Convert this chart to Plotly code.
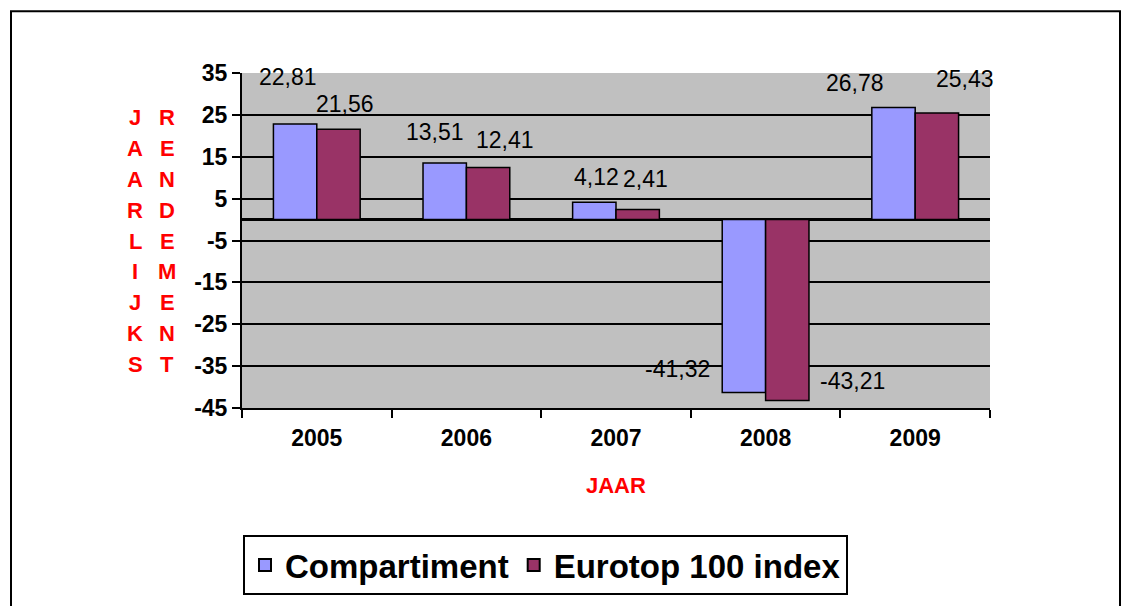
import plotly.graph_objects as go

years = ["2005", "2006", "2007", "2008", "2009"]
compartiment = [22.81, 13.51, 4.12, -41.32, 26.78]
eurotop = [21.56, 12.41, 2.41, -43.21, 25.43]
series_names = ["Compartiment", "Eurotop 100 index"]
y_ticks = [-45, -35, -25, -15, -5, 5, 15, 25, 35]
y_title_left = "JAARLIJKS"
y_title_right = "RENDEMENT"
x_title = "JAAR"

# layout constants (pixels)
W, H = 1122, 606
L, R, T, B = 242, 990, 73, 409
PW, PH = R - L, B - T

def px2paper(px, py):
    return (px - L) / PW, (B - py) / PH

FONT = "Liberation Sans, Arial, sans-serif"

fig = go.Figure()
fig.add_trace(go.Bar(x=years, y=compartiment, name=series_names[0],
                     marker=dict(color="#9999FF", line=dict(color="black", width=1.5))))
fig.add_trace(go.Bar(x=years, y=eurotop, name=series_names[1],
                     marker=dict(color="#993366", line=dict(color="black", width=1.5))))

# data label offsets (pixels) relative to category centre and bar end
comp_off = [(-29, 47), (-31, 31), (-20, 25), (-88, 24), (-60, 24)]
euro_off = [(28, 25), (39, 28), (29, 30), (87, 20), (50, 34)]

def fmt(v):
    return f"{v:.2f}".replace(".", ",")

annotations = []
for i, yr in enumerate(years):
    for vals, offs in ((compartiment, comp_off), (eurotop, euro_off)):
        annotations.append(dict(x=i, y=vals[i], xref="x", yref="y", text=fmt(vals[i]),
                                showarrow=False, xshift=offs[i][0], yshift=offs[i][1],
                                xanchor="center", yanchor="middle",
                                font=dict(family=FONT, size=23, color="black")))

# vertical y-axis titles
for col_x, word in ((135, y_title_left), (167, y_title_right)):
    for j, ch in enumerate(word):
        xp, yp = px2paper(col_x, 118 + j * 30.9)
        annotations.append(dict(x=xp, y=yp, xref="paper", yref="paper", text=ch,
                                showarrow=False, xanchor="center", yanchor="middle",
                                font=dict(family=FONT, size=22, color="#FF0000", weight="bold")))

xp, yp = px2paper(616, 487)
annotations.append(dict(x=xp, y=yp, xref="paper", yref="paper", text=x_title,
                        showarrow=False, xanchor="center", yanchor="middle",
                        font=dict(family=FONT, size=22, color="#FF0000", weight="bold")))

x0, y0 = px2paper(11, 11)
x1, y1 = px2paper(1120, 640)
shapes = [dict(type="rect", xref="paper", yref="paper", x0=x0, y0=y1, x1=x1, y1=y0,
               line=dict(color="black", width=2), fillcolor="rgba(0,0,0,0)", layer="below")]

lx, ly = px2paper(243, 535)

fig.update_layout(
    width=W, height=H,
    margin=dict(l=L, r=W - R, t=T, b=H - B, pad=0),
    paper_bgcolor="white",
    plot_bgcolor="#C0C0C0",
    barmode="group", bargap=0.42, bargroupgap=0,
    font=dict(family=FONT, color="black"),
    showlegend=True,
    legend=dict(orientation="h", x=lx, y=ly, xanchor="left", yanchor="top",
                bordercolor="black", borderwidth=2, bgcolor="white",
                font=dict(family=FONT, size=33, color="black", weight="bold"),
                itemsizing="constant"),
    annotations=annotations,
    shapes=shapes,
    xaxis=dict(type="category", range=[-0.5, 4.5], showline=True, linecolor="black", linewidth=2,
               ticks="outside", tickson="boundaries", ticklen=8, tickcolor="black", tickwidth=2,
               showgrid=False, ticklabelstandoff=8,
               tickfont=dict(family=FONT, size=23, color="black", weight="bold")),
    yaxis=dict(range=[-45, 35], tickvals=y_ticks, ticktext=[str(v) for v in y_ticks],
               showline=True, linecolor="black", linewidth=2,
               ticks="outside", ticklen=8, tickcolor="black", tickwidth=2,
               showgrid=True, gridcolor="black", gridwidth=1.5,
               zeroline=True, zerolinecolor="black", zerolinewidth=2.5,
               tickfont=dict(family=FONT, size=23, color="black", weight="bold")),
)

fig.write_html("out.html", config={"displayModeBar": False},
               post_script="document.body.style.margin='0';document.body.style.overflow='hidden';")
